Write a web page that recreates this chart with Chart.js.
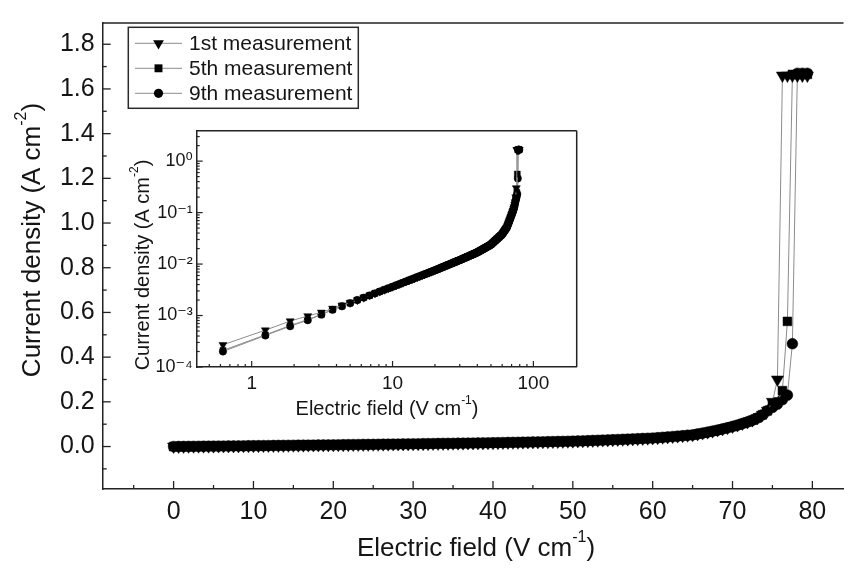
<!DOCTYPE html>
<html><head><meta charset="utf-8">
<script src="https://cdn.jsdelivr.net/npm/chart.js@4.4.0/dist/chart.umd.min.js"></script>
<style>
html,body{margin:0;padding:0;background:#fff;overflow:hidden;}
#wrap{position:relative;width:851px;height:569px;background:#fff;}
#main{position:absolute;left:0;top:0;width:851px;height:569px;}
#inset{position:absolute;left:120px;top:110px;width:480px;height:320px;}
</style></head><body>
<div id="wrap"><canvas id="main" width="851" height="569"></canvas><canvas id="inset" width="480" height="320"></canvas></div>
<script>
// ---------------- DATA ----------------
const seriesNames = ['1st measurement', '5th measurement', '9th measurement'];

// Electric field (V cm^-1)
const fieldValues = [
  0,0.625,1.25,1.875,2.5,3.125,3.75,4.375,5,5.625,
  6.25,6.875,7.5,8.125,8.75,9.375,10,10.625,11.25,11.875,
  12.5,13.125,13.75,14.375,15,15.625,16.25,16.875,17.5,18.125,
  18.75,19.375,20,20.625,21.25,21.875,22.5,23.125,23.75,24.375,
  25,25.625,26.25,26.875,27.5,28.125,28.75,29.375,30,30.625,
  31.25,31.875,32.5,33.125,33.75,34.375,35,35.625,36.25,36.875,
  37.5,38.125,38.75,39.375,40,40.625,41.25,41.875,42.5,43.125,
  43.75,44.375,45,45.625,46.25,46.875,47.5,48.125,48.75,49.375,
  50,50.625,51.25,51.875,52.5,53.125,53.75,54.375,55,55.625,
  56.25,56.875,57.5,58.125,58.75,59.375,60,60.625,61.25,61.875,
  62.5,63.125,63.75,64.375,65,65.625,66.25,66.875,67.5,68.125,
  68.75,69.375,70,70.625,71.25,71.875,72.5,73.125,73.75,74.375,
  75,75.625,76.25,76.875,77.5,78.125,78.75,79.375
];

// Current density (A cm^-2): low-field start (0 .. 5 V/cm)
const head1st = [0, 2.7e-4, 5.2e-4, 7.8e-4, 9.8e-4, 1.15e-3, 1.37e-3, 1.58e-3, 1.78e-3];
const head5th = [0, 2.1e-4, 4.2e-4, 6.4e-4, 8.3e-4, 1.06e-3, 1.31e-3, 1.53e-3, 1.75e-3];
const head9th = [0, 2.0e-4, 4.1e-4, 6.2e-4, 8.1e-4, 1.04e-3, 1.29e-3, 1.51e-3, 1.74e-3];

// shared middle part (5.625 .. 74.375 V/cm), the three runs overlap here
const commonMid = [
  2.00e-3,2.23e-3,2.46e-3,2.70e-3,2.93e-3,3.17e-3,3.40e-3,3.63e-3,3.87e-3,4.11e-3,
  4.36e-3,4.60e-3,4.85e-3,5.09e-3,5.34e-3,5.59e-3,5.83e-3,6.08e-3,6.33e-3,6.58e-3,
  6.83e-3,7.08e-3,7.33e-3,7.58e-3,7.85e-3,8.12e-3,8.39e-3,8.67e-3,8.94e-3,9.22e-3,
  9.49e-3,9.77e-3,1.004e-2,1.032e-2,1.060e-2,1.088e-2,1.117e-2,1.145e-2,1.173e-2,1.201e-2,
  1.230e-2,1.260e-2,1.290e-2,1.321e-2,1.352e-2,1.382e-2,1.413e-2,1.444e-2,1.475e-2,1.506e-2,
  1.537e-2,1.568e-2,1.600e-2,1.631e-2,1.663e-2,1.695e-2,1.736e-2,1.778e-2,1.820e-2,1.862e-2,
  1.904e-2,1.947e-2,1.990e-2,2.034e-2,2.078e-2,2.122e-2,2.167e-2,2.212e-2,2.257e-2,2.302e-2,
  2.348e-2,2.394e-2,2.470e-2,2.548e-2,2.627e-2,2.708e-2,2.790e-2,2.873e-2,2.959e-2,3.045e-2,
  3.133e-2,3.223e-2,3.314e-2,3.407e-2,3.502e-2,3.597e-2,3.695e-2,3.794e-2,3.956e-2,4.123e-2,
  4.295e-2,4.472e-2,4.655e-2,4.843e-2,5.038e-2,5.238e-2,5.615e-2,6.016e-2,6.441e-2,6.892e-2,
  7.369e-2,7.875e-2,8.411e-2,8.978e-2,0.096,0.103,0.110,0.118,0.128,0.142,
  0.160
];

// breakdown end (75 .. 79.375 V/cm)
const tail1st = [0.200, 0.300, 1.66, 1.66, 1.66, 1.66, 1.66, 1.66];
const tail5th = [0.185, 0.200, 0.250, 0.560, 1.665, 1.665, 1.665, 1.665];
const tail9th = [0.175, 0.190, 0.210, 0.230, 0.460, 1.67, 1.67, 1.67];

const current1st = head1st.concat(commonMid, tail1st);
const current5th = head5th.concat(commonMid, tail5th);
const current9th = head9th.concat(commonMid, tail9th);

// main axes ticks
const xMajorTicks = [0,10,20,30,40,50,60,70,80];
const xMinorTicks = [-5,5,15,25,35,45,55,65,75];
const yMajorTicks = [0.0,0.2,0.4,0.6,0.8,1.0,1.2,1.4,1.6,1.8];
const yMinorTicks = [-0.1,0.1,0.3,0.5,0.7,0.9,1.1,1.3,1.5,1.7];

// inset (log-log) ticks
const insetXMajorTicks = [1,10,100];
const insetXMajorLabels = ['1','10','100'];
const insetXMinorTicks = [0.5,0.6,0.7,0.8,0.9,2,3,4,5,6,7,8,9,20,30,40,50,60,70,80,90];
const insetYMajorTicks = [1e-4,1e-3,1e-2,1e-1,1];
const insetYMajorLabels = ['10\u207B\u2074','10\u207B\u00B3','10\u207B\u00B2','10\u207B\u00B9','10\u2070'];
const insetYMinorTicks = [2e-4,3e-4,4e-4,5e-4,6e-4,7e-4,8e-4,9e-4,2e-3,3e-3,4e-3,5e-3,6e-3,7e-3,8e-3,9e-3,
  2e-2,3e-2,4e-2,5e-2,6e-2,7e-2,8e-2,9e-2,0.2,0.3,0.4,0.5,0.6,0.7,0.8,0.9,2,3];

// ---------------- STYLE ----------------
const FONT = "'Liberation Sans', Arial, 'DejaVu Sans', sans-serif";
const INK = '#151515';
const LINE = '#8c8c8c';
const markerStyles = [
  {pointStyle:'triangle', rotation:180, rMain:7, rInset:4.6, rLegend:6.2},
  {pointStyle:'rect', rotation:0, rMain:6.2, rInset:4.2, rLegend:5.6},
  {pointStyle:'circle', rotation:0, rMain:5.4, rInset:3.7, rLegend:4.6}
];
const allSeries = [current1st, current5th, current9th];

function buildTicks(majors, minors) {
  return majors.map(v => ({value:v, major:true}))
    .concat(minors.map(v => ({value:v, major:false})))
    .sort((a,b) => a.value - b.value);
}

function makeDatasets(inset) {
  return allSeries.map((ys, k) => {
    let pts = fieldValues.map((x, i) => ({x: x, y: ys[i]}));
    if (inset) pts = pts.filter(p => p.x > 0 && p.y > 0);
    const m = markerStyles[k];
    return {
      label: seriesNames[k],
      data: pts,
      borderColor: LINE,
      borderWidth: 1,
      pointStyle: m.pointStyle,
      pointRotation: m.rotation,
      pointRadius: inset ? m.rInset : m.rMain,
      pointBackgroundColor: '#000',
      pointBorderColor: '#000',
      pointBorderWidth: 0.5,
      tension: 0,
      fill: false
    };
  });
}

// ---------------- PLUGINS ----------------
const frameTicks = {
  id: 'frameTicks',
  afterDraw(chart, args, o) {
    const ctx = chart.ctx, ca = chart.chartArea;
    ctx.save();
    ctx.strokeStyle = o.color; ctx.lineWidth = o.tickWidth;
    ['x','y'].forEach(id => {
      const s = chart.scales[id];
      s.ticks.forEach(t => {
        const len = t.major ? o.major : o.minor;
        const p = s.getPixelForValue(t.value);
        ctx.beginPath();
        if (id === 'x') { ctx.moveTo(p, ca.bottom); ctx.lineTo(p, ca.bottom - len); }
        else { ctx.moveTo(ca.left, p); ctx.lineTo(ca.left + len, p); }
        ctx.stroke();
      });
    });
    ctx.lineWidth = o.frameWidth;
    ctx.beginPath();
    ctx.moveTo(ca.left, ca.top); ctx.lineTo(ca.right, ca.top);
    if (o.right) { ctx.moveTo(ca.right, ca.top); ctx.lineTo(ca.right, ca.bottom); }
    ctx.stroke();
    ctx.restore();
  }
};

function drawRich(ctx, parts, cx, cy, rot, size) {
  ctx.save();
  ctx.translate(cx, cy); ctx.rotate(rot);
  ctx.fillStyle = INK; ctx.textBaseline = 'middle'; ctx.textAlign = 'left';
  const supSize = Math.round(size * 0.6);
  let total = 0;
  const w = parts.map(p => { ctx.font = (p.sup ? supSize : size) + 'px ' + FONT; const m = ctx.measureText(p.t).width; total += m; return m; });
  let x = -total / 2;
  parts.forEach((p, i) => {
    ctx.font = (p.sup ? supSize : size) + 'px ' + FONT;
    ctx.fillText(p.t, x, p.sup ? -size * 0.42 : 0);
    x += w[i];
  });
  ctx.restore();
}

const axisTitles = {
  id: 'axisTitles',
  afterDraw(chart, args, o) {
    const ctx = chart.ctx;
    o.items.forEach(it => drawRich(ctx, it.parts, it.x, it.y, it.rot, it.size));
  }
};

function drawMarker(ctx, style, rotation, r, x, y) {
  ctx.beginPath();
  if (style === 'circle') { ctx.arc(x, y, r, 0, Math.PI * 2); }
  else if (style === 'rect') { const s = r * Math.SQRT1_2; ctx.rect(x - s, y - s, 2 * s, 2 * s); }
  else {
    for (let k = 0; k < 3; k++) {
      const a = (rotation + k * 120) * Math.PI / 180;
      const px = x + Math.sin(a) * r, py = y - Math.cos(a) * r;
      if (k === 0) ctx.moveTo(px, py); else ctx.lineTo(px, py);
    }
    ctx.closePath();
  }
  ctx.fill();
}

const boxLegend = {
  id: 'boxLegend',
  afterDraw(chart, args, o) {
    const ctx = chart.ctx;
    ctx.save();
    ctx.strokeStyle = '#2a2a2a'; ctx.lineWidth = 1.5;
    ctx.strokeRect(o.left, o.top, o.width, o.height);
    chart.data.datasets.forEach((ds, i) => {
      const y = o.firstRow + i * o.rowGap;
      ctx.strokeStyle = LINE; ctx.lineWidth = 1;
      ctx.beginPath(); ctx.moveTo(o.lineX0, y); ctx.lineTo(o.lineX1, y); ctx.stroke();
      ctx.fillStyle = '#000';
      const m = markerStyles[i];
      drawMarker(ctx, m.pointStyle, m.rotation, m.rLegend, (o.lineX0 + o.lineX1) / 2, y);
      ctx.fillStyle = INK; ctx.font = o.font + 'px ' + FONT;
      ctx.textBaseline = 'middle'; ctx.textAlign = 'left';
      ctx.fillText(ds.label, o.textX, y + 1);
    });
    ctx.restore();
  }
};

Chart.defaults.font.family = FONT;
Chart.defaults.color = INK;

// ---------------- MAIN CHART ----------------
new Chart(document.getElementById('main'), {
  type: 'line',
  data: { datasets: makeDatasets(false) },
  options: {
    responsive: false, animation: false, devicePixelRatio: 1,
    layout: { padding: { top: 11.7, right: 0, left: 0, bottom: 0 } },
    plugins: {
      legend: { display: false }, tooltip: { enabled: false },
      frameTicks: { color: '#222', tickWidth: 1.3, frameWidth: 1.5, major: 8, minor: 4, right: false },
      axisTitles: { items: [
        { parts: [{t:'Electric field (V cm'},{t:'-1',sup:true},{t:')'}], x: 476, y: 549, rot: 0, size: 26 },
        { parts: [{t:'Current density (A cm'},{t:'-2',sup:true},{t:')'}], x: 33, y: 240, rot: -Math.PI/2, size: 26 }
      ] },
      boxLegend: { left: 128.3, top: 27.3, width: 230, height: 81, firstRow: 43.3, rowGap: 25, lineX0: 135, lineX1: 182, textX: 189, font: 21 }
    },
    scales: {
      x: {
        type: 'linear', min: -8.88, max: 83.9,
        afterFit(s) { s.height = 80; },
        afterBuildTicks(s) { s.ticks = buildTicks(xMajorTicks, xMinorTicks); },
        ticks: { autoSkip: false, maxRotation: 0, padding: 8, color: INK, font: { size: 25 },
          callback(v, i, t) { return t[i].major ? String(v) : ''; } },
        grid: { display: false, drawTicks: false },
        border: { display: true, color: '#222', width: 1.5 }
      },
      y: {
        type: 'linear', min: -0.19, max: 1.895,
        afterFit(s) { s.width = 102.7; },
        afterBuildTicks(s) { s.ticks = buildTicks(yMajorTicks, yMinorTicks); },
        ticks: { autoSkip: false, padding: 8, color: INK, font: { size: 25 },
          callback(v, i, t) { return t[i].major ? v.toFixed(1) : ''; } },
        grid: { display: false, drawTicks: false },
        border: { display: true, color: '#222', width: 1.5 }
      }
    }
  },
  plugins: [frameTicks, axisTitles, boxLegend]
});

// ---------------- INSET CHART ----------------
new Chart(document.getElementById('inset'), {
  type: 'line',
  data: { datasets: makeDatasets(true) },
  options: {
    responsive: false, animation: false, devicePixelRatio: 1,
    layout: { padding: { top: 20.7, right: 23.3, left: 0, bottom: 0 } },
    plugins: {
      legend: { display: false }, tooltip: { enabled: false },
      frameTicks: { color: '#222', tickWidth: 1.2, frameWidth: 1.5, major: 6, minor: 3, right: true },
      axisTitles: { items: [
        { parts: [{t:'Electric field (V cm'},{t:'-1',sup:true},{t:')'}], x: 267, y: 299, rot: 0, size: 20 },
        { parts: [{t:'Current density (A cm'},{t:'-2',sup:true},{t:')'}], x: 23, y: 155, rot: -Math.PI/2, size: 20 }
      ] }
    },
    scales: {
      x: {
        type: 'logarithmic', min: 0.407, max: 203,
        afterFit(s) { s.height = 63; },
        afterBuildTicks(s) { s.ticks = buildTicks(insetXMajorTicks, insetXMinorTicks); },
        ticks: { autoSkip: false, maxRotation: 0, padding: 5, color: INK, font: { size: 19 },
          callback(v, i, t) { const k = insetXMajorTicks.indexOf(t[i].value); return k >= 0 ? insetXMajorLabels[k] : ''; } },
        grid: { display: false, drawTicks: false },
        border: { display: true, color: '#222', width: 1.5 }
      },
      y: {
        type: 'logarithmic', min: 1e-4, max: 3.9,
        afterFit(s) { s.width = 76.7; },
        afterBuildTicks(s) { s.ticks = buildTicks(insetYMajorTicks, insetYMinorTicks); },
        ticks: { autoSkip: false, padding: 4, color: INK, font: { size: 18 },
          callback(v, i, t) { const k = insetYMajorTicks.indexOf(t[i].value); return k >= 0 ? insetYMajorLabels[k] : ''; } },
        grid: { display: false, drawTicks: false },
        border: { display: true, color: '#222', width: 1.5 }
      }
    }
  },
  plugins: [frameTicks, axisTitles]
});
</script>
</body></html>
